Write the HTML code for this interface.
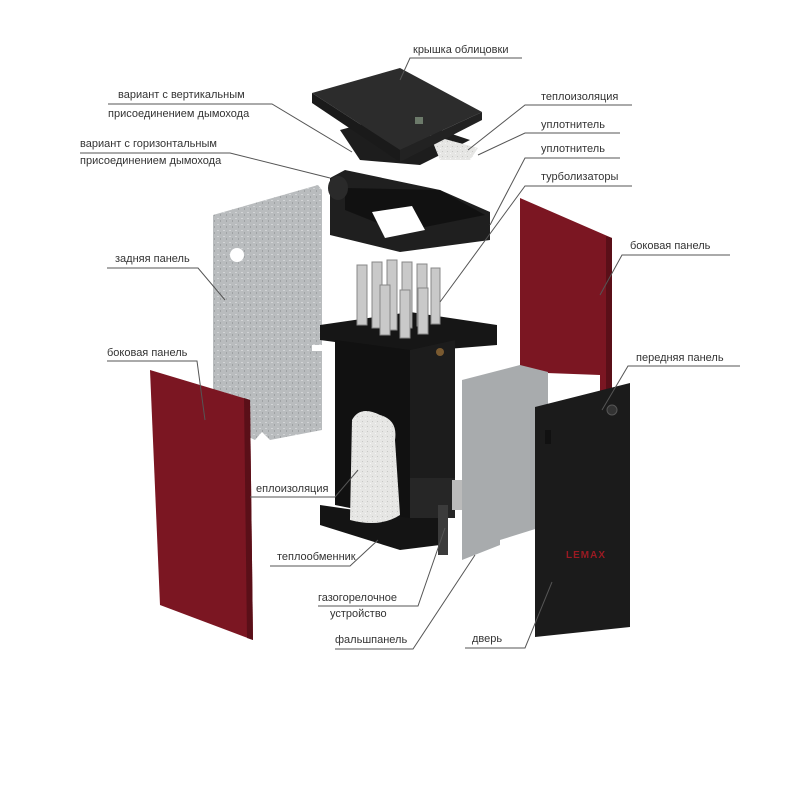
<!DOCTYPE html>
<html><head><meta charset="utf-8"><style>
html,body{margin:0;padding:0;background:#fff;}
svg{display:block}
text{font-family:"Liberation Sans","DejaVu Sans",sans-serif;font-size:11px;fill:#333;}
.l{stroke:#555;stroke-width:1;fill:none}
</style></head><body>
<svg width="800" height="800" viewBox="0 0 800 800" xmlns="http://www.w3.org/2000/svg">
<defs>
<pattern id="galv" width="6" height="6" patternUnits="userSpaceOnUse">
<rect width="6" height="6" fill="#b9bcbe"/><rect x="1" y="2" width="2" height="1" fill="#d2d4d6"/><rect x="4" y="4" width="1" height="2" fill="#9fa2a4"/>
</pattern>
<pattern id="wool" width="5" height="5" patternUnits="userSpaceOnUse">
<rect width="5" height="5" fill="#e6e6e4"/><rect x="2" y="1" width="1" height="1" fill="#c8c8c6"/><rect x="0" y="3" width="1" height="1" fill="#f6f6f6"/>
</pattern>
</defs>

<!-- back galvanized panel -->
<polygon points="213,215 318,185 322,190 322,430 270,440 262,432 255,440 213,420" fill="url(#galv)"/>
<circle cx="237" cy="255" r="7" fill="#fff"/>
<rect x="312" y="345" width="14" height="6" fill="#fff"/>

<!-- right red side panel -->
<polygon points="520,198 612,238 612,398 600,400 600,375 520,372" fill="#7b1622"/>
<polygon points="606,236 612,238 612,398 606,398" fill="#5a0f18"/>

<!-- smoke hood box -->
<polygon points="330,178 345,170 440,190 490,212 490,240 400,252 330,235" fill="#1f1f1f"/>
<polygon points="345,188 440,190 485,215 400,232 345,210" fill="#111"/>
<polygon points="372,212 412,206 425,230 385,238" fill="#fff"/>
<ellipse cx="338" cy="188" rx="10" ry="12" fill="#2a2a2a"/>

<!-- lid -->
<polygon points="340,130 395,115 470,140 420,165 360,160" fill="#1d1d1d"/>
<polygon points="430,135 478,148 470,160 440,160" fill="url(#wool)"/>
<polygon points="312,93 400,68 482,112 400,150" fill="#2c2c2c"/>
<polygon points="312,93 400,150 400,162 312,103" fill="#1a1a1a"/>
<polygon points="400,150 482,112 482,120 400,162" fill="#222"/>
<rect x="415" y="117" width="8" height="7" fill="#6c7a6a"/>

<!-- heat exchanger -->
<polygon points="320,325 410,312 497,325 497,345 410,352 320,340" fill="#161616"/>
<polygon points="335,340 410,350 455,340 455,510 410,520 335,505" fill="#111"/>
<polygon points="410,350 455,340 455,510 410,520" fill="#1c1c1c"/>
<polygon points="320,505 410,518 440,510 440,545 400,550 320,525" fill="#141414"/>
<rect x="410" y="478" width="45" height="40" fill="#262626"/>
<circle cx="440" cy="352" r="4" fill="#7a5a30"/>
<!-- turbulators -->
<g fill="#c9c9c9" stroke="#888" stroke-width="1">
<rect x="357" y="265" width="10" height="60"/><rect x="372" y="262" width="10" height="66"/>
<rect x="387" y="260" width="10" height="70"/><rect x="402" y="262" width="10" height="66"/>
<rect x="417" y="264" width="10" height="62"/><rect x="431" y="268" width="9" height="56"/>
<rect x="380" y="285" width="10" height="50"/><rect x="400" y="290" width="10" height="48"/><rect x="418" y="288" width="10" height="46"/>
</g>
<!-- insulation -->
<path d="M352,420 Q360,405 380,415 Q398,420 395,440 L400,515 Q380,528 350,520 Z" fill="url(#wool)"/>
<!-- burner -->
<rect x="438" y="505" width="10" height="50" fill="#3b3b3b"/>
<rect x="452" y="480" width="12" height="30" fill="#bbb"/>

<!-- gray false panel -->
<polygon points="462,380 520,365 548,372 548,525 500,540 500,545 462,560" fill="#a8abad"/>

<!-- door -->
<polygon points="535,407 630,383 630,627 535,637" fill="#1b1b1b"/>
<rect x="545" y="430" width="6" height="14" fill="#111"/>
<circle cx="612" cy="410" r="5" fill="#333" stroke="#555"/>
<text x="566" y="558" style="font-size:10px;fill:#9a1a22;font-weight:bold;letter-spacing:1px">LEMAX</text>

<!-- left red side panel -->
<polygon points="150,370 250,400 253,640 160,605" fill="#7b1622"/>
<polygon points="244,398 250,400 253,640 247,638" fill="#5a0f18"/>

<!-- labels -->
<text x="413" y="53">крышка облицовки</text>
<polyline class="l" points="400,80 410,58 522,58"/>

<text x="118" y="98">вариант с вертикальным</text>
<text x="108" y="117">присоединением дымохода</text>
<polyline class="l" points="108,104 272,104 352,152"/>

<text x="80" y="147">вариант с горизонтальным</text>
<text x="80" y="164">присоединением дымохода</text>
<polyline class="l" points="80,153 230,153 330,178"/>

<text x="541" y="100">теплоизоляция</text>
<polyline class="l" points="468,150 525,105 632,105"/>
<text x="541" y="128">уплотнитель</text>
<polyline class="l" points="478,155 525,133 620,133"/>
<text x="541" y="152">уплотнитель</text>
<polyline class="l" points="490,225 525,158 620,158"/>
<text x="541" y="180">турболизаторы</text>
<polyline class="l" points="440,302 525,186 632,186"/>

<text x="630" y="249">боковая панель</text>
<polyline class="l" points="600,295 622,255 730,255"/>

<text x="115" y="262">задняя панель</text>
<polyline class="l" points="225,300 198,268 107,268"/>

<text x="107" y="356">боковая панель</text>
<polyline class="l" points="205,420 197,361 107,361"/>

<text x="636" y="361">передняя панель</text>
<polyline class="l" points="602,410 628,366 740,366"/>

<text x="256" y="492">еплоизоляция</text>
<polyline class="l" points="250,497 335,497 358,470"/>

<text x="277" y="560">теплообменник</text>
<polyline class="l" points="270,566 350,566 378,540"/>

<text x="318" y="601">газогорелочное</text>
<text x="330" y="617">устройство</text>
<polyline class="l" points="318,606 418,606 445,528"/>

<text x="335" y="643">фальшпанель</text>
<polyline class="l" points="335,649 413,649 475,555"/>

<text x="472" y="642">дверь</text>
<polyline class="l" points="465,648 525,648 552,582"/>
</svg>
</body></html>
